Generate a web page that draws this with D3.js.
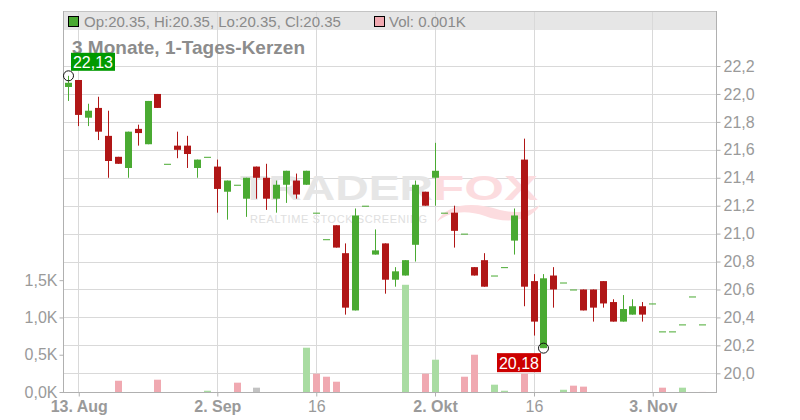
<!DOCTYPE html>
<html><head><meta charset="utf-8">
<script src="https://cdn.jsdelivr.net/npm/d3@7"></script>
<style>
html,body{margin:0;padding:0;background:#fff;}
svg{display:block;font-family:"Liberation Sans",Arial,sans-serif;}
</style></head>
<body><svg id="c" width="800" height="420"></svg>
<script>
const dates = ["2025-08-12","2025-08-13","2025-08-14","2025-08-15","2025-08-18","2025-08-19","2025-08-20","2025-08-21","2025-08-22","2025-08-25","2025-08-26","2025-08-27","2025-08-28","2025-08-29",
"2025-09-01","2025-09-02","2025-09-03","2025-09-04","2025-09-05","2025-09-08","2025-09-09","2025-09-10","2025-09-11","2025-09-12","2025-09-15","2025-09-16","2025-09-17","2025-09-18","2025-09-19","2025-09-22","2025-09-23","2025-09-24","2025-09-25","2025-09-26","2025-09-29","2025-09-30",
"2025-10-01","2025-10-02","2025-10-03","2025-10-06","2025-10-07","2025-10-08","2025-10-09","2025-10-10","2025-10-13","2025-10-14","2025-10-15","2025-10-16","2025-10-17","2025-10-20","2025-10-21","2025-10-22","2025-10-23","2025-10-24","2025-10-27","2025-10-28","2025-10-29","2025-10-30","2025-10-31",
"2025-11-03","2025-11-04","2025-11-05","2025-11-06","2025-11-07","2025-11-10"];
const open  = [22.05,22.10,21.83,21.90,21.70,21.55,21.47,21.75,21.64,22.00,21.50,21.63,21.63,21.47,21.55,21.48,21.30,21.35,21.25,21.48,21.40,21.25,21.35,21.38,21.35,21.15,20.96,21.06,20.86,20.45,21.20,20.85,20.93,20.67,20.70,20.92,21.30,21.40,21.15,21.15,21.00,20.76,20.81,20.70,20.76,20.95,21.53,20.66,20.18,20.70,20.65,20.60,20.60,20.60,20.66,20.51,20.37,20.42,20.48,20.50,20.30,20.30,20.35,20.55,20.35];
const high  = [22.13,22.10,21.93,21.98,21.88,21.55,21.73,21.78,21.95,22.00,21.50,21.73,21.70,21.53,21.55,21.53,21.38,21.35,21.40,21.48,21.50,21.38,21.45,21.43,21.45,21.15,20.96,21.06,20.93,21.18,21.20,21.03,20.93,20.76,20.81,21.38,21.30,21.65,21.15,21.20,21.00,20.76,20.86,20.70,20.76,21.18,21.68,20.71,20.71,20.76,20.65,20.60,20.60,20.60,20.66,20.53,20.56,20.53,20.51,20.50,20.30,20.30,20.35,20.55,20.35];
const low   = [21.95,21.77,21.77,21.67,21.40,21.50,21.40,21.63,21.64,21.90,21.50,21.54,21.47,21.40,21.55,21.15,21.10,21.35,21.12,21.25,21.17,21.15,21.22,21.25,21.35,21.15,20.96,20.90,20.42,20.45,21.20,20.85,20.57,20.62,20.70,20.80,21.20,21.20,21.15,20.90,21.00,20.70,20.62,20.70,20.76,20.85,20.48,20.27,20.18,20.47,20.65,20.60,20.45,20.37,20.47,20.37,20.37,20.42,20.37,20.50,20.30,20.30,20.35,20.55,20.35];
const close = [22.08,21.85,21.88,21.73,21.52,21.50,21.73,21.72,21.95,21.90,21.50,21.60,21.57,21.53,21.55,21.32,21.38,21.35,21.40,21.40,21.25,21.35,21.45,21.28,21.45,21.15,20.96,20.90,20.47,21.13,21.20,20.88,20.67,20.73,20.81,21.35,21.20,21.45,21.15,21.02,21.00,20.70,20.62,20.70,20.76,21.13,20.62,20.37,20.68,20.60,20.65,20.60,20.45,20.47,20.50,20.37,20.46,20.48,20.42,20.50,20.30,20.30,20.35,20.55,20.35];
const volume = [0,0,0,0,0,0.151,0,0,0,0.165,0,0,0,0,0.017,0,0,0.125,0,0.058,0,0,0,0,0.594,0.245,0.205,0.138,0,0,0,0,0,0,1.438,0,0.245,0.433,0,0,0.205,0.5,0,0.098,0.017,0,0.245,0,0,0,0.03,0.085,0.072,0,0,0,0,0,0,0,0.058,0,0.058,0,0.001];
const priceTicks = [20.0,20.2,20.4,20.6,20.8,21.0,21.2,21.4,21.6,21.8,22.0,22.2];
const volumeTicks = [0,0.5,1.0,1.5];
const xTickDates = ["2025-08-13","2025-09-02","2025-09-16","2025-10-02","2025-10-16","2025-11-03"];
const xTickLabels = ["13. Aug","2. Sep","16","2. Okt","16","3. Nov"];
const title = "3 Monate, 1-Tages-Kerzen";

const W = 800, H = 420;
const L = 63, R = 716, T = 11, B = 392, headH = 19;
const GREEN = "#4aaa32", RED = "#b01616", VGREEN = "#a9dca2", VRED = "#f0a9b1", VGRAY = "#c2c2c2";
const GRID = "#d9d9d9", AXIS = "#b0b0b0", TXT = "#9a9a9a";

const svg = d3.select("#c");
const x = d3.scaleLinear().domain([-0.54, dates.length + 0.44]).range([L, R]);
const y = d3.scaleLinear().domain([19.866, 22.594]).range([B, T]);
const yv = d3.scaleLinear().domain([0, 5.11]).range([B, T]);
const comma = s => s.replace(".", ",");
const px = i => Math.round(x(i));

// header band
svg.append("rect").attr("x", L).attr("y", T).attr("width", R - L).attr("height", headH).attr("fill", "#e6e6e6");

// grid
svg.append("g").selectAll("line").data(priceTicks).join("line")
  .attr("x1", L).attr("x2", R).attr("y1", d => Math.round(y(d)) + 0.5).attr("y2", d => Math.round(y(d)) + 0.5)
  .attr("stroke", GRID);
const tickIdx = xTickDates.map(d => dates.indexOf(d));
svg.append("g").selectAll("line").data(tickIdx).join("line")
  .attr("x1", d => px(d) + 0.5).attr("x2", d => px(d) + 0.5).attr("y1", T).attr("y2", B)
  .attr("stroke", GRID);

// watermark
const wm = svg.append("g");
wm.append("text").attr("x", 240).attr("y", 200).attr("font-size", 35).attr("font-weight", "bold")
  .attr("textLength", 193).attr("lengthAdjust", "spacingAndGlyphs").attr("fill", "#e6e6e6").text("TRADER");
wm.append("text").attr("x", 433).attr("y", 200).attr("font-size", 35).attr("font-weight", "bold")
  .attr("textLength", 105).attr("lengthAdjust", "spacingAndGlyphs").attr("fill", "#fcdcdf").text("FOX");
wm.append("path").attr("d", "M437,222 C445,205 470,200 500,210 C515,214 530,212 540,205 C530,222 505,224 485,216 C465,209 448,212 437,222 Z")
  .attr("fill", "#fcdcdf");
wm.append("text").attr("x", 250).attr("y", 223).attr("font-size", 11)
  .attr("textLength", 177).attr("lengthAdjust", "spacing").attr("fill", "#e0e0e0").text("REALTIME STOCK SCREENING");

// volume bars
const vIdx = d3.range(dates.length).filter(i => volume[i] > 0);
svg.append("g").selectAll("rect").data(vIdx).join("rect")
  .attr("x", i => px(i) - 3).attr("width", 7)
  .attr("y", i => yv(volume[i])).attr("height", i => B - yv(volume[i]))
  .attr("fill", i => i === 0 ? VGRAY : (close[i] > close[i-1] ? VGREEN : (close[i] < close[i-1] ? VRED : VGRAY)));

// candles
const idx = d3.range(dates.length);
const cg = svg.append("g");
cg.selectAll("line").data(idx.filter(i => high[i] !== low[i])).join("line")
  .attr("x1", i => px(i) + 0.5).attr("x2", i => px(i) + 0.5)
  .attr("y1", i => y(high[i])).attr("y2", i => y(low[i]))
  .attr("stroke", i => close[i] >= open[i] ? GREEN : RED).attr("stroke-width", 1);
cg.selectAll("rect").data(idx).join("rect")
  .attr("x", i => px(i) - 3).attr("width", 7)
  .attr("y", i => y(Math.max(open[i], close[i])))
  .attr("height", i => Math.max(1, Math.abs(y(open[i]) - y(close[i]))))
  .attr("fill", i => close[i] >= open[i] ? GREEN : RED);

// axes lines
svg.append("line").attr("x1", L).attr("x2", R).attr("y1", T + 0.5).attr("y2", T + 0.5).attr("stroke", "#c4c4c4");
svg.append("line").attr("x1", L + 0.5).attr("x2", L + 0.5).attr("y1", T).attr("y2", B).attr("stroke", AXIS);
svg.append("line").attr("x1", R + 0.5).attr("x2", R + 0.5).attr("y1", T).attr("y2", B).attr("stroke", AXIS);
svg.append("line").attr("x1", L).attr("x2", R + 1).attr("y1", B + 0.5).attr("y2", B + 0.5).attr("stroke", AXIS);

// right price axis
const ya = d3.axisRight(y).tickValues(priceTicks).tickSize(4).tickPadding(3).tickFormat(d => comma(d3.format(".1f")(d)));
const yg = svg.append("g").attr("transform", `translate(${R + 0.5},0)`).call(ya);
yg.select(".domain").remove();
yg.selectAll("line").attr("stroke", AXIS);
yg.selectAll("text").attr("fill", TXT).attr("font-size", 16).attr("font-family", "Liberation Sans, Arial, sans-serif");

// left volume axis
const va = d3.axisLeft(yv).tickValues(volumeTicks).tickSize(4).tickPadding(2).tickFormat(d => comma(d3.format(".1f")(d)) + "K");
const vg = svg.append("g").attr("transform", `translate(${L + 0.5},0)`).call(va);
vg.select(".domain").remove();
vg.selectAll("line").attr("stroke", AXIS);
vg.selectAll("text").attr("fill", TXT).attr("font-size", 16).attr("font-family", "Liberation Sans, Arial, sans-serif");

// bottom axis
const xa = d3.axisBottom(x).tickValues(tickIdx).tickSize(4).tickPadding(4).tickFormat((d, k) => xTickLabels[k]);
const xg = svg.append("g").attr("transform", `translate(0.5,${B + 0.5})`).call(xa);
xg.select(".domain").remove();
xg.selectAll("line").attr("stroke", AXIS);
xg.selectAll("text").attr("fill", TXT).attr("font-size", 16).attr("font-family", "Liberation Sans, Arial, sans-serif")
  .attr("font-weight", (d, k) => /[A-Za-z]/.test(xTickLabels[k]) ? "bold" : "normal");

// header legend
const n = dates.length - 1;
svg.append("rect").attr("x", 68.5).attr("y", 16.5).attr("width", 10).attr("height", 10).attr("fill", GREEN).attr("stroke", "#000");
svg.append("text").attr("x", 84).attr("y", 26.5).attr("font-size", 15).attr("fill", "#8a8a8a")
  .text(`Op:${open[n].toFixed(2)}, Hi:${high[n].toFixed(2)}, Lo:${low[n].toFixed(2)}, Cl:${close[n].toFixed(2)}`);
svg.append("rect").attr("x", 374.5).attr("y", 16.5).attr("width", 10).attr("height", 10).attr("fill", VRED).attr("stroke", "#000");
svg.append("text").attr("x", 389).attr("y", 26.5).attr("font-size", 15).attr("fill", "#8a8a8a")
  .text(`Vol: ${volume[n].toFixed(3)}K`);

// title
svg.append("text").attr("x", 72).attr("y", 54).attr("font-size", 19).attr("font-weight", "bold").attr("fill", "#8c8c8c").text(title);

// max / min markers
const iMax = d3.maxIndex(high), iMin = d3.minIndex(low);
const cx1 = px(iMax) + 0.5, cy1 = y(high[iMax]);
const cx2 = px(iMin) + 0.5, cy2 = y(low[iMin]);
svg.append("circle").attr("cx", cx1).attr("cy", cy1).attr("r", 5).attr("fill", "none").attr("stroke", "#111");
svg.append("circle").attr("cx", cx2).attr("cy", cy2).attr("r", 5).attr("fill", "none").attr("stroke", "#111");
const lab1 = comma(high[iMax].toFixed(2)), lab2 = comma(low[iMin].toFixed(2));
svg.append("rect").attr("x", cx1 + 2.5).attr("y", cy1 - 23).attr("width", 44).attr("height", 18).attr("fill", "#009a00");
svg.append("text").attr("x", cx1 + 24.5).attr("y", cy1 - 8).attr("text-anchor", "middle").attr("font-size", 16).attr("fill", "#fff").text(lab1);
svg.append("rect").attr("x", cx2 - 46.5).attr("y", cy2 + 5).attr("width", 44).attr("height", 19).attr("fill", "#cc0000");
svg.append("text").attr("x", cx2 - 24.5).attr("y", cy2 + 20.5).attr("text-anchor", "middle").attr("font-size", 16).attr("fill", "#fff").text(lab2);
</script></body></html>
